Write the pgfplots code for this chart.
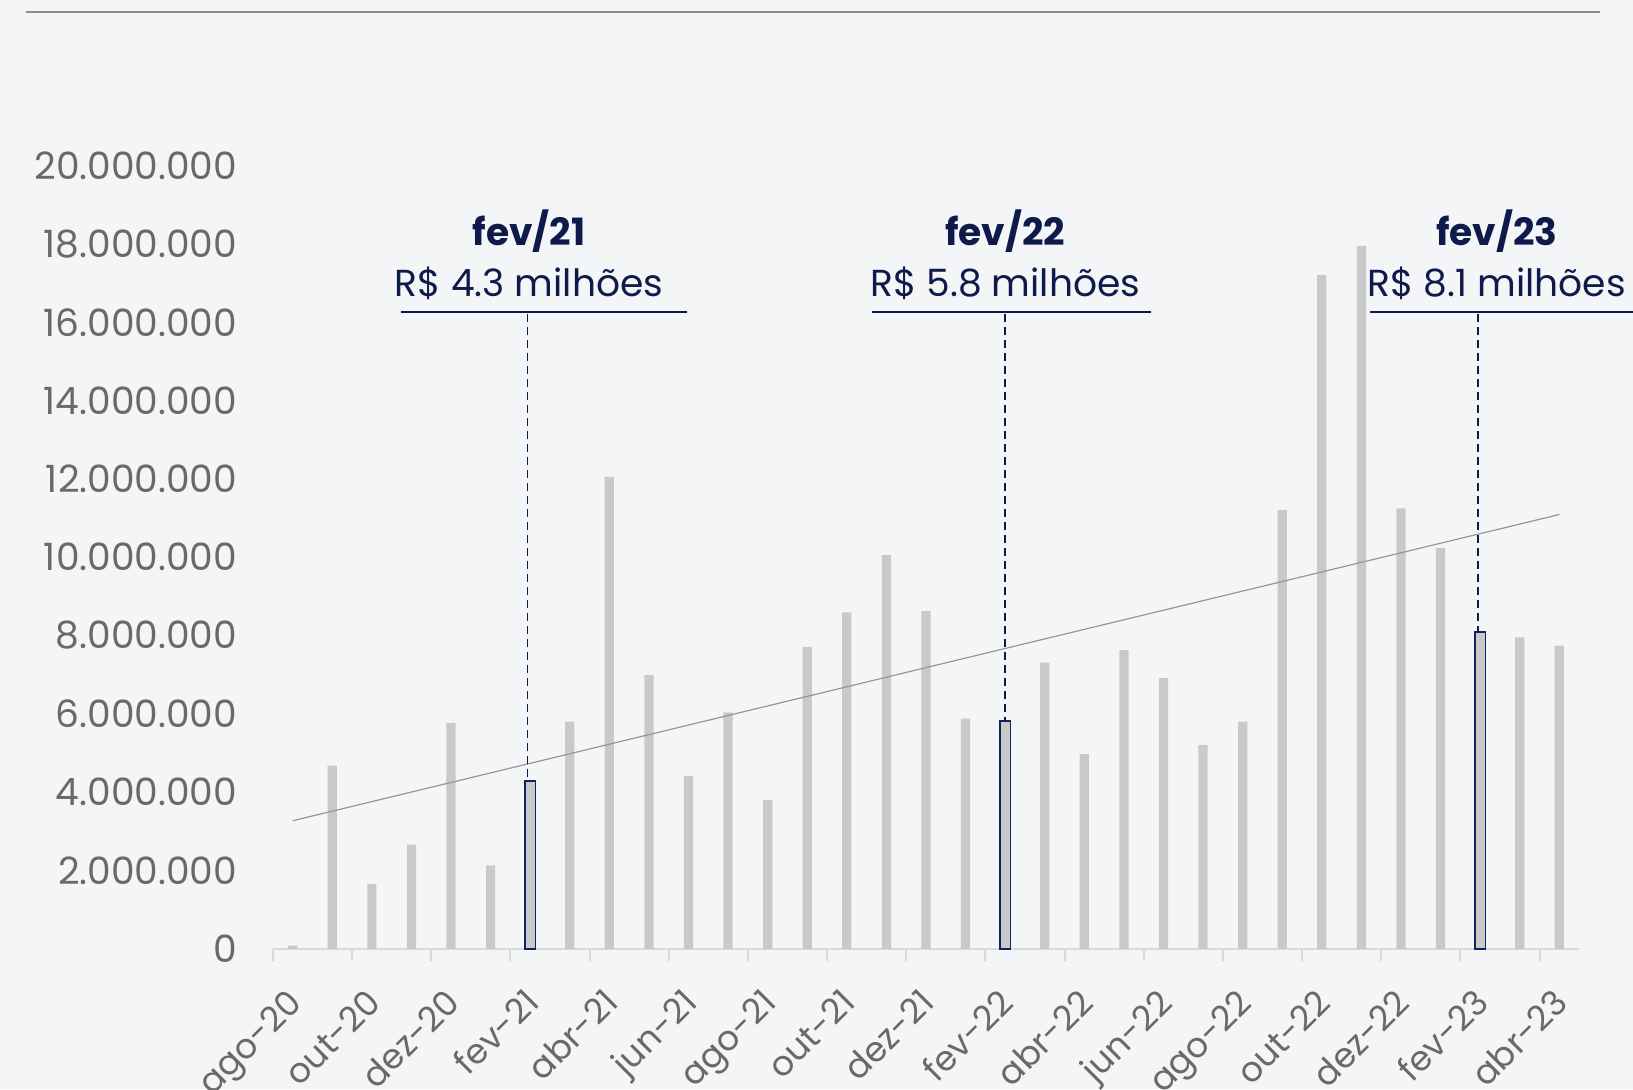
\documentclass[border=0pt]{standalone}
\usepackage{pgfplots}
\pgfplotsset{compat=1.18}
\usepackage{fontspec}
\setmainfont{Poppins}
\definecolor{bg}{RGB}{244,245,247}
\definecolor{navy}{RGB}{14,27,74}
\definecolor{barnavy}{RGB}{16,36,96}
\definecolor{barc}{RGB}{201,201,201}
\definecolor{lbl}{RGB}{105,105,105}
\definecolor{axc}{RGB}{217,217,220}
\definecolor{trend}{RGB}{150,150,150}
\definecolor{topline}{RGB}{140,140,140}
\newcommand{\lblfont}{\fontsize{18.8}{22}\selectfont}
\newcommand{\xlblfont}{\fontsize{17.2}{20}\selectfont}
\begin{document}
\begin{tikzpicture}
\fill[bg] (0,0) rectangle (816.5pt,544.5pt);
\path[use as bounding box] (0,0) rectangle (816.5pt,544.5pt);
\draw[topline, line width=1pt] (13pt,538.25pt) -- (800pt,538.25pt);
\begin{axis}[
  at={(136.45pt,70.1pt)}, anchor=south west,
  scale only axis, width=653.1pt, height=391.6pt,
  xmin=-0.5, xmax=32.5, ymin=0, ymax=20,
  clip=false,
  axis x line*=bottom, axis y line*=left,
  y axis line style={draw=none},
  x axis line style={axc, line width=1pt, -},
  xtick={0,2,...,32},
  xticklabels={ago-20,out-20,dez-20,fev-21,abr-21,jun-21,ago-21,out-21,dez-21,fev-22,abr-22,jun-22,ago-22,out-22,dez-22,fev-23,abr-23},
  minor xtick={-0.5,1.5,...,31.5},
  major x tick style={draw=none},
  minor x tick style={axc, line width=1pt},
  major tick length=0pt,
  minor tick length=6pt,
  xtick align=outside,
  xticklabel shift=0pt,
  ytick={0,2,...,20},
  yticklabels={0,2.000.000,4.000.000,6.000.000,8.000.000,10.000.000,12.000.000,14.000.000,16.000.000,18.000.000,20.000.000},
  ytick style={draw=none},
  yticklabel style={anchor=east, inner sep=0pt, xshift=-17.7pt, font=\lblfont, text=lbl},
  xticklabel style={shift={(5.5pt,-28pt)}, rotate=45, anchor=base east, inner sep=0pt, font=\xlblfont, text=lbl},
]
\addplot[ybar, bar shift=0pt, bar width=4.6pt, fill=barc, draw=none] table[x=i, y=v] {
i v
0 0.08
1 4.68
2 1.65
3 2.66
4 5.77
5 2.13
6 4.28
7 5.80
8 12.05
9 6.99
10 4.41
11 6.04
12 3.80
13 7.71
14 8.59
15 10.05
16 8.62
17 5.88
18 5.82
19 7.31
20 4.97
21 7.63
22 6.91
23 5.21
24 5.80
25 11.20
26 17.21
27 17.95
28 11.25
29 10.24
30 8.09
31 7.95
32 7.74
};
\addplot[ybar, bar shift=0pt, bar width=5.2pt, fill=barc, draw=barnavy, line width=0.8pt] coordinates {(6,4.28) (18,5.82) (30,8.09)};
\addplot[trend, line width=0.6pt] coordinates {(0,3.27) (32,11.09)};
\addplot[navy, line width=0.9pt, dash pattern=on 4pt off 2.5pt] coordinates {(5.93,16.2) (5.93,4.28)};
\addplot[navy, line width=0.9pt, dash pattern=on 4pt off 2.5pt] coordinates {(18.0,16.2) (18.0,5.82)};
\addplot[navy, line width=0.9pt, dash pattern=on 4pt off 2.5pt] coordinates {(29.95,16.2) (29.95,8.09)};
\draw[navy, line width=1pt] (axis cs:2.74,16.25) -- (axis cs:9.95,16.25);
\draw[navy, line width=1pt] (axis cs:14.63,16.25) -- (axis cs:21.68,16.25);
\draw[navy, line width=1pt] (axis cs:27.21,16.25) -- (axis cs:34.5,16.25);
\node[navy, font=\bfseries\lblfont] at (axis cs:5.97,18.32) {fev/21};
\node[navy, font=\lblfont] at (axis cs:5.97,16.99) {R\$ 4.3 milhões};
\node[navy, font=\bfseries\lblfont] at (axis cs:18.0,18.32) {fev/22};
\node[navy, font=\lblfont] at (axis cs:18.0,16.99) {R\$ 5.8 milhões};
\node[navy, font=\bfseries\lblfont] at (axis cs:30.42,18.32) {fev/23};
\node[navy, font=\lblfont] at (axis cs:30.42,16.99) {R\$ 8.1 milhões};
\end{axis}
\end{tikzpicture}
\end{document}
